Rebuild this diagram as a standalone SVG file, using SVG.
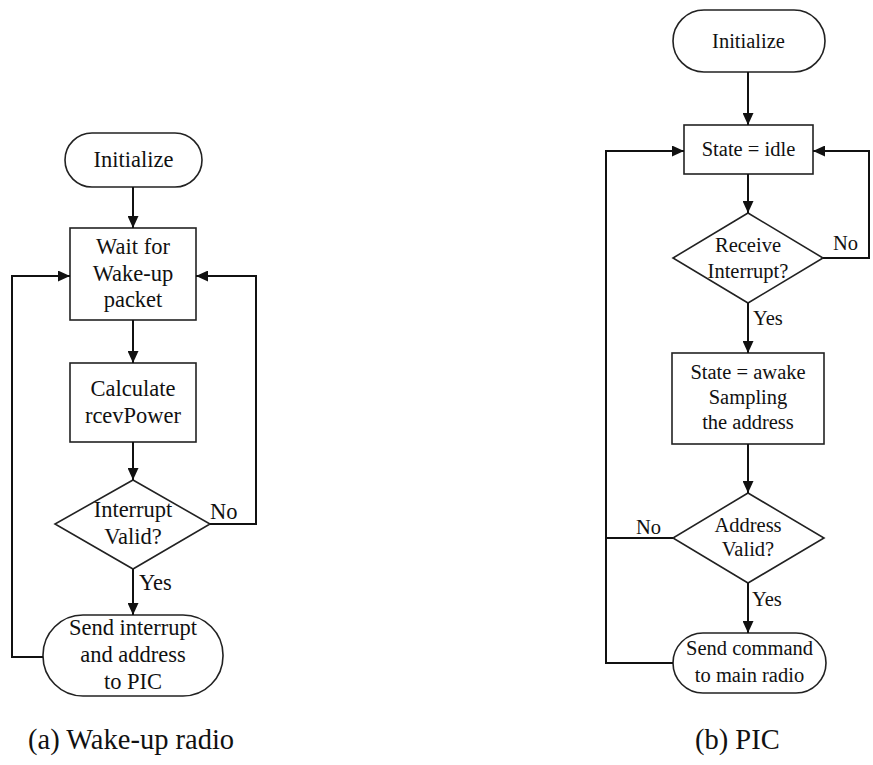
<svg xmlns="http://www.w3.org/2000/svg" width="873" height="765" viewBox="0 0 873 765">
<style>
.shape{fill:#fff;stroke:#222;stroke-width:1.6}
.conn{fill:none;stroke:#111;stroke-width:2}
text{font-family:"Times New Roman","Liberation Serif",Tinos,"DejaVu Serif","Noto Serif",Times,serif}
.t{fill:#111;text-anchor:middle}
.a{font-size:22.5px}
.b{font-size:20.5px}
.lbl{text-anchor:start}
.cap{font-size:28.5px;fill:#111}
</style>
<defs>
<marker id="arr" markerUnits="userSpaceOnUse" markerWidth="12" markerHeight="11" refX="12" refY="5.5" orient="auto">
<path d="M0,0 L12,5.5 L0,11 z" fill="#111"/>
</marker>
</defs>
<rect width="873" height="765" fill="#fff"/>
<!-- Left diagram -->
<g id="a-init"><rect class="shape" x="65" y="133" width="137" height="54" rx="27"/><text class="t a" x="133.5" y="167">Initialize</text></g>
<g id="a-wait"><rect class="shape" x="70" y="228" width="126" height="92"/><text class="t a" x="133" y="254">Wait for</text><text class="t a" x="133" y="281">Wake-up</text><text class="t a" x="133" y="307">packet</text></g>
<g id="a-calc"><rect class="shape" x="70" y="363" width="126" height="79"/><text class="t a" x="133" y="396">Calculate</text><text class="t a" x="133" y="423">rcevPower</text></g>
<g id="a-valid"><polygon class="shape" points="133,480 210,524 133,569 55,524"/><text class="t a" x="133" y="517">Interrupt</text><text class="t a" x="133" y="544">Valid?</text></g>
<g id="a-send"><rect class="shape" x="43" y="615" width="180" height="81" rx="40"/><text class="t a" x="133" y="635">Send interrupt</text><text class="t a" x="133" y="662">and address</text><text class="t a" x="133" y="689">to PIC</text></g>

<!-- Right diagram -->
<g id="b-init"><rect class="shape" x="673" y="10" width="152" height="62" rx="31"/><text class="t b" x="748.5" y="48">Initialize</text></g>
<g id="b-idle"><rect class="shape" x="684" y="125" width="129" height="49"/><text class="t b" x="748.5" y="156">State = idle</text></g>
<g id="b-recv"><polygon class="shape" points="748,213 823,258 748,303 673,258"/><text class="t b" x="748" y="252">Receive</text><text class="t b" x="748" y="278">Interrupt?</text></g>
<g id="b-awake"><rect class="shape" x="672" y="353" width="152" height="91"/><text class="t b" x="748" y="379">State = awake</text><text class="t b" x="748" y="404">Sampling</text><text class="t b" x="748" y="429">the address</text></g>
<g id="b-addr"><polygon class="shape" points="748,493 824,538 748,583 673,538"/><text class="t b" x="748" y="532">Address</text><text class="t b" x="748" y="556">Valid?</text></g>
<g id="b-send"><rect class="shape" x="673" y="633" width="153" height="60" rx="30"/><text class="t b" x="749.5" y="655">Send command</text><text class="t b" x="749.5" y="682">to main radio</text></g>

<g id="connectors">
<path class="conn" d="M133,187 V228" marker-end="url(#arr)"/>
<path class="conn" d="M133,320 V363" marker-end="url(#arr)"/>
<path class="conn" d="M133,442 V480" marker-end="url(#arr)"/>
<path class="conn" d="M133,569 V615" marker-end="url(#arr)"/>
<path class="conn" d="M210,524 H256 V276 H196" marker-end="url(#arr)"/>
<path class="conn" d="M43,657 H12 V276 H70" marker-end="url(#arr)"/>
<text class="t a lbl" x="210" y="519">No</text>
<text class="t a lbl" x="139" y="590">Yes</text>

<path class="conn" d="M748,72 V125" marker-end="url(#arr)"/>
<path class="conn" d="M748,174 V213" marker-end="url(#arr)"/>
<path class="conn" d="M748,303 V353" marker-end="url(#arr)"/>
<path class="conn" d="M748,444 V493" marker-end="url(#arr)"/>
<path class="conn" d="M748,583 V633" marker-end="url(#arr)"/>
<path class="conn" d="M823,258 H869 V151 H813" marker-end="url(#arr)"/>
<path class="conn" d="M673,663 H606 V151 H684" marker-end="url(#arr)"/>
<path class="conn" d="M673,538 H606"/>
<text class="t b lbl" x="833" y="250">No</text>
<text class="t b lbl" x="636" y="534">No</text>
<text class="t b lbl" x="753" y="325">Yes</text>
<text class="t b lbl" x="752" y="606">Yes</text>
</g>

<text class="cap" x="28" y="749">(a) Wake-up radio</text>
<text class="cap" x="695" y="749">(b) PIC</text>
</svg>
